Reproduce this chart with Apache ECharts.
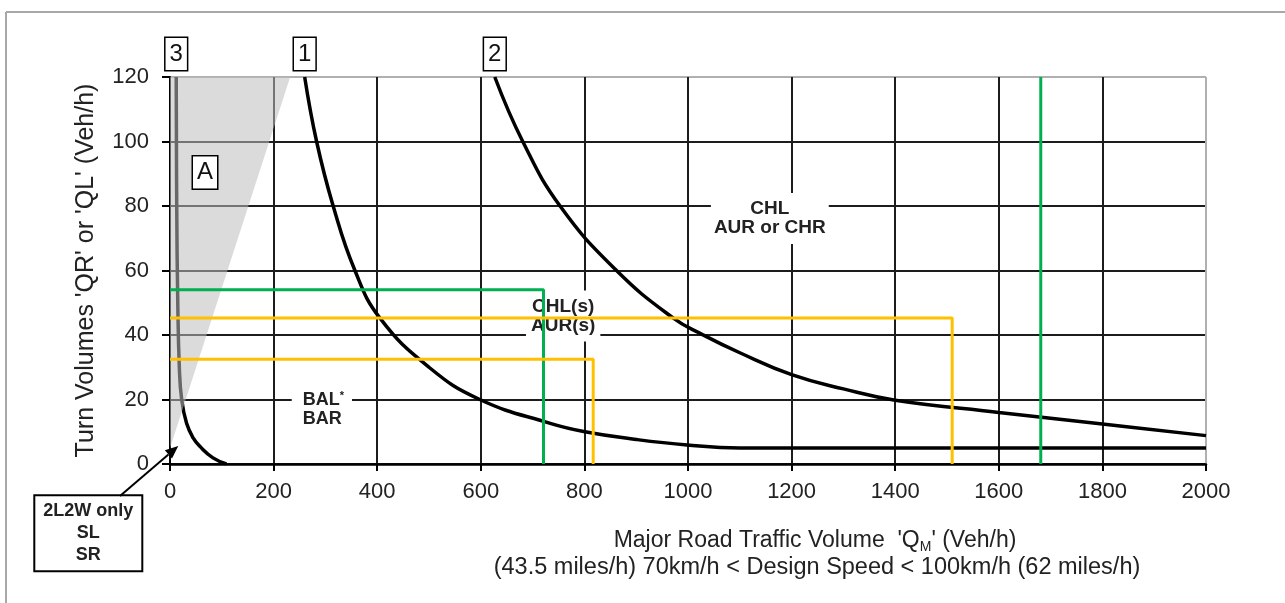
<!DOCTYPE html>
<html>
<head>
<meta charset="utf-8">
<script src="https://cdn.jsdelivr.net/npm/echarts@6/dist/echarts.min.js"></script>
<style>
  html, body { margin: 0; padding: 0; background: #fff; }
  #chart { width: 1285px; height: 603px; }
</style>
</head>
<body>
<div id="chart"></div>
<script>
// axis ticks
const xTicks = [0, 200, 400, 600, 800, 1000, 1200, 1400, 1600, 1800, 2000];
const yTicks = [0, 20, 40, 60, 80, 100, 120];

// curve 1
const curve1X = [260, 283, 315, 357, 405, 500, 598, 734, 801, 900, 998, 1100, 1300, 2000];
const curve1Y = [120, 100, 80, 60, 45.3, 30, 20, 12.6, 10, 7.6, 5.9, 5, 5, 5];

// curve 2
const curve2X = [627, 681, 753, 862, 971, 1027, 1100, 1200, 1300, 1400, 1600, 1800, 2000];
const curve2Y = [120, 100, 80, 60, 45.3, 40.2, 34.5, 27.7, 23.3, 19.8, 16, 12.4, 8.8];

// curve 3
const curve3X = [12, 13, 15, 18, 22.5, 32, 45, 58, 83, 109];
const curve3Y = [120, 80, 50, 30, 20, 12.6, 8, 5.4, 1.9, 0];

// shaded zone A
const shadeX = [0, 0, 232];
const shadeY = [5, 120, 120];

// example reading lines
const greenAX = [0, 721, 721];
const greenAY = [54, 54, 0];
const greenBX = [1681, 1681];
const greenBY = [0, 120];
const yellowAX = [0, 1510, 1510];
const yellowAY = [45.3, 45.3, 0];
const yellowBX = [0, 817, 817];
const yellowBY = [32.5, 32.5, 0];

const FONT = 'Liberation Sans, Arial, sans-serif';
const GRID_DARK = '#1c1c1c';
const GRID_EDGE = '#b0b0b0';

const pairs = (xs, ys) => xs.map((x, i) => [x, ys[i]]);

const chart = echarts.init(document.getElementById('chart'));

function curve(xs, ys) {
  return {
    type: 'line',
    data: pairs(xs, ys),
    symbol: 'none',
    smooth: 0.45,
    lineStyle: { color: '#000', width: 3.5 },
    z: 3,
    silent: true
  };
}

function refLine(xs, ys, color) {
  return {
    type: 'line',
    data: pairs(xs, ys),
    symbol: 'none',
    lineStyle: { color: color, width: 3 },
    z: 5,
    silent: true
  };
}

const option = {
  animation: false,
  backgroundColor: '#fff',
  grid: { left: 170, right: 79, top: 77, bottom: 139 },
  xAxis: {
    type: 'value',
    min: xTicks[0],
    max: xTicks[xTicks.length - 1],
    interval: xTicks[1] - xTicks[0],
    axisLine: { lineStyle: { color: '#000', width: 2.5 } },
    axisTick: { show: true, length: 7, lineStyle: { color: '#000', width: 2 } },
    axisLabel: { margin: 17, fontSize: 22, color: '#222', fontFamily: FONT, formatter: v => String(v) },
    splitLine: {
      show: true,
      lineStyle: {
        width: 2,
        color: [GRID_DARK, GRID_DARK, GRID_DARK, GRID_DARK, GRID_DARK, GRID_DARK,
                GRID_DARK, GRID_DARK, GRID_DARK, GRID_DARK, GRID_EDGE]
      }
    }
  },
  yAxis: {
    type: 'value',
    min: yTicks[0],
    max: yTicks[yTicks.length - 1],
    interval: yTicks[1] - yTicks[0],
    name: "Turn Volumes 'QR' or 'QL' (Veh/h)",
    nameLocation: 'middle',
    nameRotate: 90,
    nameGap: 71,
    nameTextStyle: { fontSize: 25, color: '#222', fontFamily: FONT },
    axisLine: { show: true, lineStyle: { color: '#000', width: 2 } },
    axisTick: { show: true, length: 8, lineStyle: { color: '#000', width: 2 } },
    axisLabel: { margin: 21, fontSize: 22, color: '#222', fontFamily: FONT },
    splitLine: {
      show: true,
      lineStyle: {
        width: 2,
        color: [GRID_DARK, GRID_DARK, GRID_DARK, GRID_DARK, GRID_DARK, GRID_DARK, GRID_EDGE]
      }
    }
  },
  series: [
    curve(curve1X, curve1Y),
    curve(curve2X, curve2Y),
    curve(curve3X, curve3Y),
    {
      type: 'custom',
      data: pairs(shadeX, shadeY),
      z: 4,
      silent: true,
      renderItem: (params, api) => {
        if (params.dataIndex !== 0) return;
        const pts = shadeX.map((x, i) => api.coord([x, shadeY[i]]));
        return { type: 'polygon', shape: { points: pts }, style: { fill: 'rgba(190,190,190,0.55)' } };
      }
    },
    refLine(greenAX, greenAY, '#00b050'),
    refLine(greenBX, greenBY, '#00b050'),
    refLine(yellowAX, yellowAY, '#ffc000'),
    refLine(yellowBX, yellowBY, '#ffc000')
  ]
};

chart.setOption(option);

// annotations placed through the grid's coordinate system
const px = (x, y) => chart.convertToPixel({ gridIndex: 0 }, [x, y]);

function boxLabel(text, p, dy) {
  return {
    type: 'text', x: p[0], y: p[1] + (dy || 0), z: 10,
    style: {
      text: text, font: '24px ' + FONT, fill: '#111',
      align: 'center', verticalAlign: 'middle',
      backgroundColor: '#fff', borderColor: '#000', borderWidth: 1.5,
      padding: [5, 4, 3, 4]
    }
  };
}

function zoneLabel(text, p, padding) {
  return {
    type: 'text', x: p[0], y: p[1], z: 1,
    style: {
      text: text, font: 'bold 19px ' + FONT, fill: '#222',
      align: 'center', verticalAlign: 'middle', lineHeight: 19,
      backgroundColor: '#fff', padding: padding
    }
  };
}

const top1 = px(curve1X[0], 120);
const top2 = px(curve2X[0], 120);
const top3 = px(curve3X[0], 120);
const arrowTip = px(16, 5.6);
const arrowTail = [120, 496];
const ang = Math.atan2(arrowTip[1] - arrowTail[1], arrowTip[0] - arrowTail[0]);
const hl = 13, hw = 5.5;
const headBase = [arrowTip[0] - hl * Math.cos(ang), arrowTip[1] - hl * Math.sin(ang)];
const head = [
  arrowTip,
  [headBase[0] + hw * Math.sin(ang), headBase[1] - hw * Math.cos(ang)],
  [headBase[0] - hw * Math.sin(ang), headBase[1] + hw * Math.cos(ang)]
];

const balPos = px(235, 17);

chart.setOption({
  graphic: [
    // frame
    { type: 'line', shape: { x1: 6, y1: 12, x2: 1285, y2: 12 }, style: { stroke: '#a8a8a8', lineWidth: 2 } },
    { type: 'line', shape: { x1: 6, y1: 12, x2: 6, y2: 603 }, style: { stroke: '#a8a8a8', lineWidth: 2 } },
    // curve numbers
    boxLabel('3', top3, -23),
    boxLabel('1', top1, -23),
    boxLabel('2', top2, -23),
    boxLabel('A', px(67.6, 90.4)),
    // zone labels
    zoneLabel('CHL\nAUR or CHR', px(1158, 76.1), [8, 3, 5, 3]),
    zoneLabel('CHL(s)\nAUR(s)', px(759, 45.9), [9, 5, 4, 5]),
    {
      type: 'text', x: balPos[0], y: balPos[1], z: 1,
      style: {
        text: '{b|BAL}{s|*}\n{b|BAR}',
        align: 'left', verticalAlign: 'middle',
        backgroundColor: '#fff', padding: [2, 8, 2, 11],
        rich: {
          b: { font: 'bold 18px ' + FONT, fill: '#222', lineHeight: 19 },
          s: { font: 'bold 11px ' + FONT, fill: '#222', verticalAlign: 'top', lineHeight: 19 }
        }
      }
    },
    // 2L2W note and arrow
    {
      type: 'text', x: 88.3, y: 533.3, z: 10,
      style: {
        text: '2L2W only\nSL\nSR', font: 'bold 18px ' + FONT, fill: '#222',
        align: 'center', verticalAlign: 'middle', lineHeight: 22,
        backgroundColor: '#fff', borderColor: '#000', borderWidth: 2,
        padding: [5, 8, 3, 8]
      }
    },
    { type: 'line', z: 10, shape: { x1: arrowTail[0], y1: arrowTail[1], x2: headBase[0], y2: headBase[1] },
      style: { stroke: '#000', lineWidth: 2 } },
    { type: 'polygon', z: 10, shape: { points: head }, style: { fill: '#000' } },
    // x axis title
    {
      type: 'text', x: 815, y: 541, z: 10,
      style: {
        text: "{a|Major Road Traffic Volume  'Q}{s|M}{a|' (Veh/h)}",
        align: 'center', verticalAlign: 'middle',
        rich: {
          a: { font: '23px ' + FONT, fill: '#222', lineHeight: 27 },
          s: { font: '14px ' + FONT, fill: '#222', lineHeight: 15, verticalAlign: 'bottom' }
        }
      }
    },
    {
      type: 'text', x: 817, y: 568, z: 10,
      style: {
        text: '(43.5 miles/h) 70km/h < Design Speed < 100km/h (62 miles/h)',
        font: '23.5px ' + FONT, fill: '#222', align: 'center', verticalAlign: 'middle'
      }
    }
  ]
});
</script>
</body>
</html>
